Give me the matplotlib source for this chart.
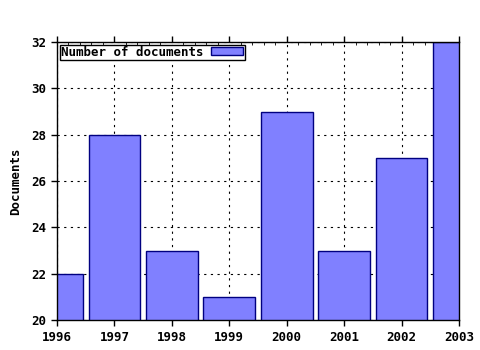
import numpy as np
import matplotlib.pyplot as plt
from matplotlib.ticker import MultipleLocator

years = [1996, 1997, 1998, 1999, 2000, 2001, 2002, 2003]
docs = [22, 28, 23, 21, 29, 23, 27, 32]

plt.rcParams['font.family'] = ['DejaVu Sans Mono']
plt.rcParams['font.weight'] = 'bold'
plt.rcParams['font.size'] = 9

fig = plt.figure(figsize=(4.8, 3.5), dpi=100)
ax = fig.add_axes([57 / 480, 1 - 320 / 350, 402 / 480, 278 / 350])

ax.bar(years, docs, width=0.9, color='#8080ff', edgecolor='#000080',
       linewidth=1, label='Number of documents', zorder=2)

ax.set_xlim(1996, 2003)
ax.set_ylim(20, 32)
ax.xaxis.set_major_locator(MultipleLocator(1))
ax.xaxis.set_minor_locator(MultipleLocator(0.2))
ax.yaxis.set_major_locator(MultipleLocator(2))
ax.grid(True, which='major', color='black', linestyle=(0, (2, 4)), linewidth=0.8, zorder=1)
ax.tick_params(axis='both', which='major', length=4, width=1, direction='out', pad=4)
ax.tick_params(axis='x', which='minor', length=2, direction='in', top=True)
ax.tick_params(axis='x', which='major', top=True)
ax.set_ylabel('Documents', fontweight='bold', labelpad=6)
for s in ax.spines.values():
    s.set_linewidth(1)
    s.set_zorder(3)

# legend box in the upper left corner
leg = ax.legend(loc='upper left', frameon=True, fancybox=False, edgecolor='black',
                borderpad=0.1, handlelength=2.6, handleheight=0.6, markerfirst=False,
                borderaxespad=0.2, framealpha=1, handletextpad=0.6)
leg.get_frame().set_linewidth(1)

fig.savefig('out.png', dpi=100)
